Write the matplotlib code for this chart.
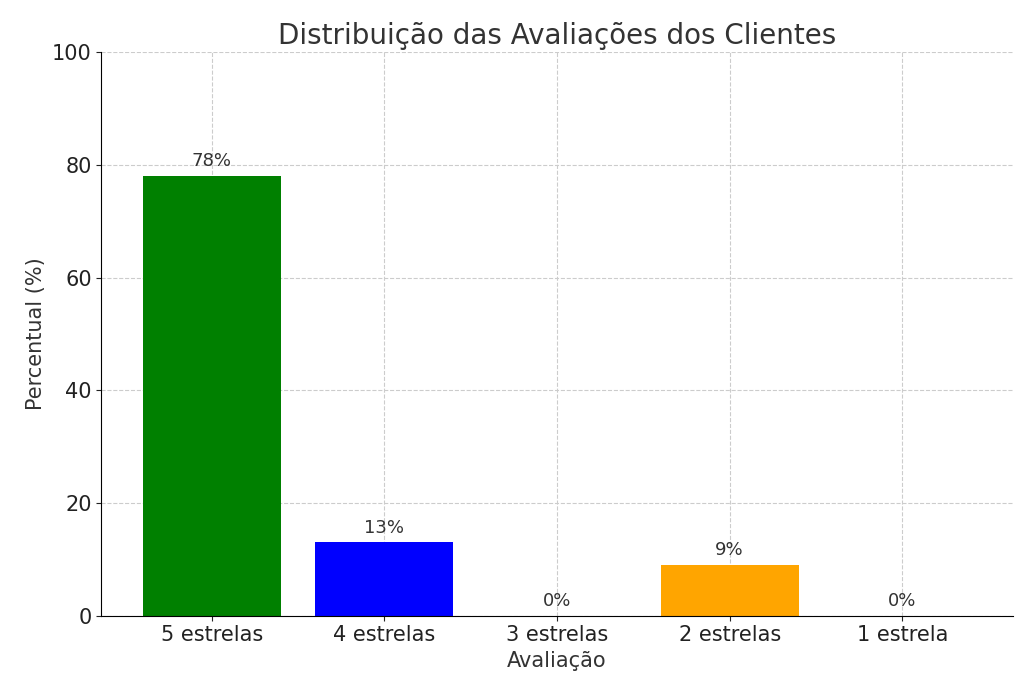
import matplotlib
matplotlib.use("Agg")
import matplotlib.pyplot as plt

categories = ["5 estrelas", "4 estrelas", "3 estrelas", "2 estrelas", "1 estrela"]
percentages = [78, 13, 0, 9, 0]
colors = ["green", "blue", "red", "orange", "purple"]

fig = plt.figure(figsize=(10.24, 6.95), dpi=100)
ax = fig.add_axes([0.099, 0.114, 0.89, 0.811])

bars = ax.bar(categories, percentages, color=colors, width=0.8, zorder=2)
for bar, p in zip(bars, percentages):
    ax.text(bar.get_x() + bar.get_width() / 2, p + 1, f"{p}%",
            ha="center", va="bottom", fontsize=13, color="#333333")

ax.set_ylim(0, 100)
ax.set_title("Distribuição das Avaliações dos Clientes", fontsize=20, color="#333333")
ax.set_xlabel("Avaliação", fontsize=15, color="#333333")
ax.set_ylabel("Percentual (%)", fontsize=15, color="#333333")
ax.tick_params(labelsize=15, colors="#222222")
ax.grid(True, linestyle="--", color="#cccccc", zorder=0)
ax.spines["top"].set_visible(False)
ax.spines["right"].set_visible(False)

fig.savefig("out.png", dpi=100)
